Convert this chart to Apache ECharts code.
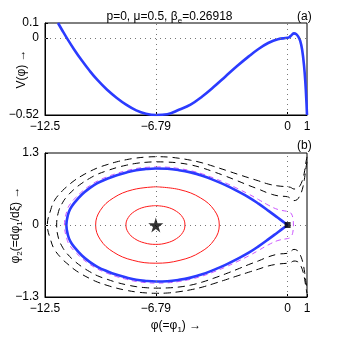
<!DOCTYPE html>
<html>
<head>
<meta charset="utf-8">
<script src="https://cdn.jsdelivr.net/npm/echarts@6/dist/echarts.min.js"></script>
<style>
html, body {margin: 0; padding: 0; background: #fff;}
#chart {width: 339px; height: 342px;}
</style>
</head>
<body>
<div id="chart"></div>
<script>
// ticks
const phiTicks = [-12.5, -6.79, 0, 1]
const vTicks = [0.1, 0, -0.52]
const phi2Ticks = [1.3, 0, -1.3]

// (a) Sagdeev potential V(phi)
const vPhi = [-11.83, -11.6, -11.38, -11.0, -10.6, -10.2, -9.8, -9.3, -8.8, -8.3, -7.8, -7.3, -6.79, -6.2, -5.6, -5.0, -4.4, -3.8, -3.2, -2.6, -2.0, -1.5, -1.0, -0.5, 0, 0.1, 0.2, 0.33, 0.45, 0.55, 0.65, 0.75, 0.85, 0.92, 0.97, 1.0]
const vVal = [0.1, 0.048, 0, -0.078, -0.153, -0.222, -0.284, -0.35, -0.405, -0.452, -0.489, -0.511, -0.52, -0.515, -0.485, -0.45, -0.395, -0.33, -0.26, -0.19, -0.125, -0.075, -0.035, -0.009, 0, 0.006, 0.018, 0.03, 0.024, 0.008, -0.02, -0.08, -0.19, -0.31, -0.43, -0.52]

// (b) phase portrait: separatrix (blue), from the saddle at 0 round the loop
const sepPhi = [0, -0.5, -1.0, -1.5, -2.0, -2.6, -3.2, -3.8, -4.4, -5.0, -5.6, -6.2, -6.79, -7.3, -7.8, -8.3, -8.8, -9.3, -9.8, -10.2, -10.6, -11.0, -11.2, -11.32, -11.4,
    -11.32, -11.2, -11.0, -10.6, -10.2, -9.8, -9.3, -8.8, -8.3, -7.8, -7.3, -6.79, -6.2, -5.6, -5.0, -4.4, -3.8, -3.2, -2.6, -2.0, -1.5, -1.0, -0.5, 0]
const sepPhi2 = [0, 0.13, 0.26, 0.385, 0.5, 0.615, 0.72, 0.81, 0.89, 0.95, 0.99, 1.015, 1.02, 1.01, 0.99, 0.95, 0.9, 0.835, 0.755, 0.665, 0.55, 0.395, 0.29, 0.18, 0,
    -0.18, -0.29, -0.395, -0.55, -0.665, -0.755, -0.835, -0.9, -0.95, -0.99, -1.01, -1.02, -1.015, -0.99, -0.95, -0.89, -0.81, -0.72, -0.615, -0.5, -0.385, -0.26, -0.13, 0]

// orbit just outside the separatrix (magenta), starting at its top
const nearPhi = [-6.79, -6.2, -5.6, -5.0, -4.4, -3.8, -3.2, -2.6, -2.0, -1.5, -1.0, -0.5, 0, 0.1, 0.2, 0.27, 0.3,
    0.27, 0.2, 0.1, 0, -0.5, -1.0, -1.5, -2.0, -2.6, -3.2, -3.8, -4.4, -5.0, -5.6, -6.2, -6.79, -7.3, -7.8, -8.3, -8.8, -9.3, -9.8, -10.2, -10.6, -11.0, -11.2, -11.35, -11.5,
    -11.35, -11.2, -11.0, -10.6, -10.2, -9.8, -9.3, -8.8, -8.3, -7.8, -7.3, -6.79]
const nearPhi2 = [1.049, 1.044, 1.02, 0.981, 0.923, 0.846, 0.76, 0.662, 0.557, 0.46, 0.36, 0.28, 0.245, 0.235, 0.2, 0.13, 0,
    -0.13, -0.2, -0.235, -0.245, -0.28, -0.36, -0.46, -0.557, -0.662, -0.76, -0.846, -0.923, -0.981, -1.02, -1.044, -1.049, -1.04, -1.02, -0.981, -0.933, -0.87, -0.794, -0.709, -0.602, -0.465, -0.38, -0.28, 0,
    0.28, 0.38, 0.465, 0.602, 0.709, 0.794, 0.87, 0.933, 0.981, 1.02, 1.04, 1.049]

// periodic orbits round the fixed point (red), starting at their tops
const ell1Phi = [-6.79, -6.22, -5.73, -5.4, -5.29, -5.4, -5.73, -6.22, -6.79, -7.38, -7.88, -8.21, -8.33, -8.21, -7.88, -7.38, -6.79]
const ell1Phi2 = [0.35, 0.323, 0.247, 0.134, 0, -0.134, -0.247, -0.323, -0.35, -0.323, -0.247, -0.134, 0, 0.134, 0.247, 0.323, 0.35]
const ell2Phi = [-6.79, -5.54, -4.48, -3.77, -3.52, -3.77, -4.48, -5.54, -6.79, -7.98, -8.98, -9.65, -9.89, -9.65, -8.98, -7.98, -6.79]
const ell2Phi2 = [0.69, 0.637, 0.488, 0.264, 0, -0.264, -0.488, -0.637, -0.69, -0.637, -0.488, -0.264, 0, 0.264, 0.488, 0.637, 0.69]

// open orbits (black dashed), from the right edge round the left and back
const openAPhi = [1.0, 0.95, 0.88, 0.8, 0.7, 0.6, 0.5, 0.33, 0.15, 0, -0.5, -1.0, -1.5, -2.0, -2.6, -3.2, -3.8, -4.4, -5.0, -5.6, -6.2, -6.79, -7.3, -7.8, -8.3, -8.8, -9.3, -9.8, -10.2, -10.6, -11.0, -11.38, -11.6, -11.8, -11.9,
    -11.8, -11.6, -11.38, -11.0, -10.6, -10.2, -9.8, -9.3, -8.8, -8.3, -7.8, -7.3, -6.79, -6.2, -5.6, -5.0, -4.4, -3.8, -3.2, -2.6, -2.0, -1.5, -1.0, -0.5, 0, 0.15, 0.33, 0.5, 0.6, 0.7, 0.8, 0.88, 0.95, 1.0]
const openAPhi2 = [1.14, 1.04, 0.86, 0.7, 0.58, 0.51, 0.46, 0.44, 0.48, 0.51, 0.527, 0.576, 0.648, 0.714, 0.8, 0.883, 0.96, 1.031, 1.086, 1.12, 1.136, 1.14, 1.132, 1.113, 1.08, 1.037, 0.98, 0.916, 0.842, 0.754, 0.645, 0.51, 0.4, 0.245, 0,
    -0.245, -0.4, -0.51, -0.645, -0.754, -0.842, -0.916, -0.98, -1.037, -1.08, -1.113, -1.132, -1.14, -1.136, -1.12, -1.086, -1.031, -0.96, -0.883, -0.8, -0.714, -0.648, -0.576, -0.527, -0.51, -0.48, -0.44, -0.46, -0.51, -0.58, -0.7, -0.86, -1.04, -1.14]
const openBPhi = [1.0, 0.95, 0.88, 0.8, 0.7, 0.6, 0.5, 0.33, 0.15, 0, -0.5, -1.0, -1.5, -2.0, -2.6, -3.2, -3.8, -4.4, -5.0, -5.6, -6.2, -6.79, -7.3, -7.8, -8.3, -8.8, -9.3, -9.8, -10.2, -10.6, -11.0, -11.38, -11.6, -12.0, -12.2, -12.38,
    -12.2, -12.0, -11.6, -11.38, -11.0, -10.6, -10.2, -9.8, -9.3, -8.8, -8.3, -7.8, -7.3, -6.79, -6.2, -5.6, -5.0, -4.4, -3.8, -3.2, -2.6, -2.0, -1.5, -1.0, -0.5, 0, 0.15, 0.33, 0.5, 0.6, 0.7, 0.8, 0.88, 0.95, 1.0]
const openBPhi2 = [1.23, 1.14, 0.98, 0.85, 0.75, 0.69, 0.66, 0.65, 0.68, 0.69, 0.706, 0.74, 0.797, 0.852, 0.92, 0.99, 1.058, 1.122, 1.17, 1.205, 1.228, 1.233, 1.226, 1.209, 1.18, 1.141, 1.09, 1.03, 0.965, 0.89, 0.8, 0.69, 0.62, 0.45, 0.28, 0,
    -0.28, -0.45, -0.62, -0.69, -0.8, -0.89, -0.965, -1.03, -1.09, -1.141, -1.18, -1.209, -1.226, -1.233, -1.228, -1.205, -1.17, -1.122, -1.058, -0.99, -0.92, -0.852, -0.797, -0.74, -0.706, -0.69, -0.68, -0.65, -0.66, -0.69, -0.75, -0.85, -0.98, -1.14, -1.23]

const fixedPts = [[-6.79, 0]]
const saddlePts = [[0, 0]]

function zip(xs, ys) {
    return xs.map((x, i) => [x, ys[i]])
}
function minus(v) {
    return String(v).replace('-', '\u2212')
}

const font = 'Liberation Sans, Arial, sans-serif'
const sub = {fontSize: 8, fontFamily: font, color: '#000', padding: [9, 0, 0, 0], verticalAlign: 'bottom'}

function xAxisOf(gridIndex, name) {
    return {
        type: 'value', gridIndex: gridIndex, min: -12.5, max: 1,
        name: name, nameLocation: 'middle', nameGap: 20, nameMoveOverlap: false,
        nameTextStyle: {fontSize: 12, fontFamily: font, color: '#000', rich: {s: sub}},
        axisLine: {show: true, onZero: false, lineStyle: {color: '#000', width: 1}},
        axisTick: {show: true, inside: true, length: 3, customValues: phiTicks, lineStyle: {color: '#000'}},
        axisLabel: {customValues: phiTicks, formatter: minus, fontSize: 12, fontFamily: font, color: '#000', margin: 6},
        splitLine: {show: false}
    }
}
function yAxisOf(gridIndex, lo, hi, ticks, name, gap) {
    return {
        type: 'value', gridIndex: gridIndex, min: lo, max: hi,
        name: name, nameLocation: 'middle', nameGap: gap, nameMoveOverlap: false,
        nameTextStyle: {fontSize: 12, fontFamily: font, color: '#000', rich: {s: sub}},
        axisLine: {show: true, onZero: false, lineStyle: {color: '#000', width: 1}},
        axisTick: {show: true, inside: true, length: 3, customValues: ticks, lineStyle: {color: '#000'}},
        axisLabel: {customValues: ticks, formatter: minus, fontSize: 12, fontFamily: font, color: '#000', margin: 6},
        splitLine: {show: false}
    }
}
function guides(xi, yi) {
    return {
        type: 'line', xAxisIndex: xi, yAxisIndex: yi, data: [], z: 1, silent: true,
        markLine: {
            silent: true, symbol: ['none', 'none'], label: {show: false},
            lineStyle: {type: [1, 4], color: '#777', width: 1},
            data: [{xAxis: -6.79}, {xAxis: 0}, {yAxis: 0}]
        }
    }
}
function curve(xs, ys, color, width, dash, z) {
    return {
        type: 'line', xAxisIndex: 1, yAxisIndex: 1, data: zip(xs, ys),
        showSymbol: false, smooth: 0.4, silent: true, z: z,
        lineStyle: {color: color, width: width, type: dash}
    }
}

const chart = echarts.init(document.getElementById('chart'))
chart.setOption({
    animation: false,
    backgroundColor: '#fff',
    title: [
        {text: 'p=0, \u03bc=0.5, \u03b2{s|e}=0.26918', left: 'center', top: 3,
         textStyle: {fontSize: 12, fontWeight: 'normal', fontFamily: font, color: '#000', rich: {s: sub}}},
        {text: '(a)', left: 292, top: 6, textStyle: {fontSize: 12, fontWeight: 'normal', fontFamily: font, color: '#000'}},
        {text: '(b)', left: 292, top: 135, textStyle: {fontSize: 12, fontWeight: 'normal', fontFamily: font, color: '#000'}}
    ],
    grid: [
        {left: 45, top: 23, width: 262, height: 92, show: true, borderColor: '#000', borderWidth: 1},
        {left: 45, top: 153, width: 262, height: 144, show: true, borderColor: '#000', borderWidth: 1}
    ],
    xAxis: [xAxisOf(0, ''), xAxisOf(1, '\u03c6(=\u03c6{s|1}) \u2192')],
    yAxis: [
        yAxisOf(0, -0.52, 0.1, vTicks, 'V(\u03c6) \u2192', 17),
        yAxisOf(1, -1.3, 1.3, phi2Ticks, '\u03c6{s|2}(=d\u03c6{s|1}/d\u03be) \u2192', 21)
    ],
    series: [
        guides(0, 0),
        guides(1, 1),
        {
            type: 'line', xAxisIndex: 0, yAxisIndex: 0, data: zip(vPhi, vVal),
            showSymbol: false, smooth: 0.4, silent: true, z: 3,
            lineStyle: {color: '#2b3bff', width: 2.6}
        },
        curve(openBPhi, openBPhi2, '#000', 1, [7, 5], 2),
        curve(openAPhi, openAPhi2, '#000', 1, [7, 5], 2),
        curve(ell2Phi, ell2Phi2, '#ff1a1a', 1, 'solid', 2),
        curve(ell1Phi, ell1Phi2, '#ff1a1a', 1, 'solid', 2),
        curve(nearPhi, nearPhi2, '#cc55ff', 1, [5, 4], 3),
        curve(sepPhi, sepPhi2, '#2b3bff', 2.6, 'solid', 4),
        {
            type: 'scatter', xAxisIndex: 1, yAxisIndex: 1, data: fixedPts, silent: true, z: 5,
            symbol: 'path://M50,0 L61,35 L98,35 L68,57 L79,91 L50,70 L21,91 L32,57 L2,35 L39,35 Z',
            symbolSize: 15, itemStyle: {color: '#000'}
        },
        {
            type: 'scatter', xAxisIndex: 1, yAxisIndex: 1, data: saddlePts, silent: true, z: 5,
            symbol: 'rect', symbolSize: 6, itemStyle: {color: '#000'}
        }
    ]
})
</script>
</body>
</html>
